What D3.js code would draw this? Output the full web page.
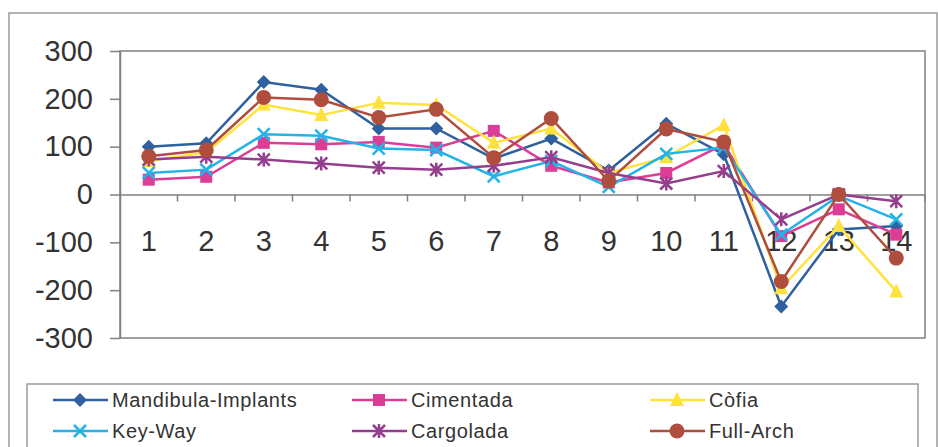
<!DOCTYPE html>
<html>
<head>
<meta charset="utf-8">
<script src="https://cdn.jsdelivr.net/npm/d3@7"></script>
<style>
  html, body { margin: 0; padding: 0; background: #fff; }
  svg { display: block; font-family: "Liberation Sans", Arial, sans-serif; }
</style>
</head>
<body>
<svg id="chart" width="938" height="447"></svg>
<script>
const categories = ["1","2","3","4","5","6","7","8","9","10","11","12","13","14"];
const yTicks = [-300, -200, -100, 0, 100, 200, 300];

const mandibulaImplants = [100, 107, 235, 219, 138, 138, 75, 117, 50, 148, 84, -234, -73, -66];
const cimentada         = [31, 37, 108, 105, 110, 98, 133, 60, 25, 45, 105, -87, -31, -84];
const cofia             = [70, 88, 188, 166, 192, 187, 108, 138, 45, 78, 145, -196, -66, -203];
const keyWay            = [45, 52, 126, 123, 96, 93, 38, 70, 16, 85, 98, -84, -3, -52];
const cargolada         = [73, 79, 73, 65, 56, 52, 60, 78, 45, 23, 49, -52, 0, -14];
const fullArch          = [80, 93, 203, 198, 161, 178, 77, 159, 28, 137, 110, -182, 0, -133];

const seriesNames  = ["Mandibula-Implants", "Cimentada", "Còfia", "Key-Way", "Cargolada", "Full-Arch"];
const seriesValues = [mandibulaImplants, cimentada, cofia, keyWay, cargolada, fullArch];
const seriesColors = ["#2F609F", "#DC3E96", "#FFE23E", "#24B3E8", "#963E8E", "#B04E3E"];
const seriesMarkers = ["diamond", "square", "triangle", "x", "star", "circle"];

const svg = d3.select("#chart");

// outer chart border
svg.append("rect").attr("x", 9).attr("y", 13).attr("width", 928).attr("height", 445)
  .attr("fill", "none").attr("stroke", "#9a9a9a").attr("stroke-width", 1.5);

const plotL = 120, plotR = 925, plotT = 51, plotB = 338;
const x = d3.scaleBand().domain(categories).range([plotL, plotR]);
const y = d3.scaleLinear().domain([-300, 300]).range([plotB, plotT]);

// plot area border
svg.append("rect").attr("x", plotL).attr("y", plotT).attr("width", plotR - plotL).attr("height", plotB - plotT)
  .attr("fill", "none").attr("stroke", "#808080").attr("stroke-width", 1.5);

// y axis
const yAxis = svg.append("g").attr("transform", `translate(${plotL},0)`)
  .call(d3.axisLeft(y).tickValues(yTicks).tickFormat(d => String(d)).tickSize(10).tickSizeOuter(0).tickPadding(17));
yAxis.select(".domain").attr("stroke", "#808080").attr("stroke-width", 1.5);
yAxis.selectAll(".tick line").attr("stroke", "#808080").attr("stroke-width", 1.5);
yAxis.selectAll("text").attr("font-size", 29).attr("fill", "#333").attr("font-family", "Liberation Sans, Arial, sans-serif");

// x axis (zero line)
const xAxis = svg.append("g").attr("transform", `translate(0,${y(0)})`)
  .call(d3.axisBottom(x).tickSize(0).tickSizeOuter(0).tickPadding(36));
xAxis.select(".domain").attr("stroke", "#808080").attr("stroke-width", 1.5);
xAxis.selectAll("text").attr("font-size", 29).attr("fill", "#333").attr("font-family", "Liberation Sans, Arial, sans-serif");

// x boundary ticks
const bounds = categories.slice(1).map(c => x(c)).concat([plotR]);
svg.append("g").selectAll("line").data(bounds).join("line")
  .attr("x1", d => d).attr("x2", d => d)
  .attr("y1", y(0)).attr("y2", y(0) + 7)
  .attr("stroke", "#808080").attr("stroke-width", 1.5);

function drawMarker(g, type, color, cx, cy) {
  if (type === "diamond") {
    g.append("path").attr("d", `M${cx},${cy-7}L${cx+7},${cy}L${cx},${cy+7}L${cx-7},${cy}Z`).attr("fill", color);
  } else if (type === "square") {
    g.append("rect").attr("x", cx - 6).attr("y", cy - 6).attr("width", 12).attr("height", 12).attr("fill", color);
  } else if (type === "triangle") {
    g.append("path").attr("d", `M${cx},${cy-8}L${cx+7},${cy+6}L${cx-7},${cy+6}Z`).attr("fill", color);
  } else if (type === "circle") {
    g.append("circle").attr("cx", cx).attr("cy", cy).attr("r", 7.5).attr("fill", color);
  } else if (type === "x") {
    g.append("path").attr("d", `M${cx-6},${cy-6}L${cx+6},${cy+6}M${cx-6},${cy+6}L${cx+6},${cy-6}`)
      .attr("stroke", color).attr("stroke-width", 2.5).attr("fill", "none");
  } else if (type === "star") {
    g.append("path").attr("d", `M${cx-6},${cy-6}L${cx+6},${cy+6}M${cx-6},${cy+6}L${cx+6},${cy-6}M${cx},${cy-7}L${cx},${cy+7}`)
      .attr("stroke", color).attr("stroke-width", 2.5).attr("fill", "none");
  }
}

const line = d3.line().x((d, i) => x(categories[i]) + x.bandwidth() / 2).y(d => y(d));

seriesValues.forEach((vals, s) => {
  const g = svg.append("g");
  g.append("path").datum(vals).attr("d", line)
    .attr("fill", "none").attr("stroke", seriesColors[s]).attr("stroke-width", 2.5);
  vals.forEach((v, i) => drawMarker(g, seriesMarkers[s], seriesColors[s], x(categories[i]) + x.bandwidth() / 2, y(v)));
});

// legend
svg.append("rect").attr("x", 27).attr("y", 384).attr("width", 891).attr("height", 80)
  .attr("fill", "none").attr("stroke", "#9a9a9a").attr("stroke-width", 1.5);

const legendCols = [53, 352, 650];
const legendRows = [400, 431];
seriesNames.forEach((name, s) => {
  const col = s % 3, row = Math.floor(s / 3);
  const lx = legendCols[col], ly = legendRows[row];
  const g = svg.append("g");
  g.append("line").attr("x1", lx).attr("x2", lx + 55).attr("y1", ly).attr("y2", ly)
    .attr("stroke", seriesColors[s]).attr("stroke-width", 2.5);
  drawMarker(g, seriesMarkers[s], seriesColors[s], lx + 27, ly);
  g.append("text").attr("x", lx + 59).attr("y", ly).attr("dy", "0.36em")
    .attr("font-size", 20).attr("letter-spacing", 0.6).attr("fill", "#333").text(name);
});
</script>
</body>
</html>
